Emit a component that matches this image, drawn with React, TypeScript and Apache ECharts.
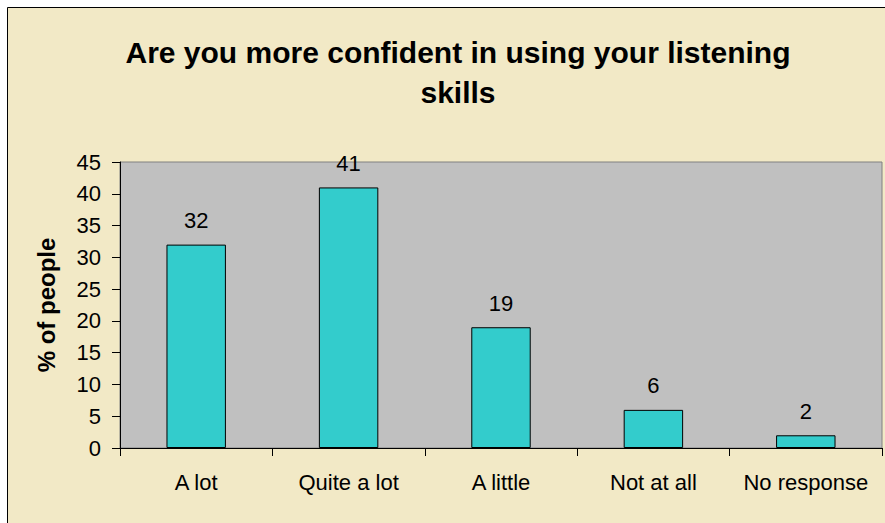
import React, { useEffect, useRef } from 'react';
import * as echarts from 'echarts';

const categories = ['A lot', 'Quite a lot', 'A little', 'Not at all', 'No response'];
const values = [32, 41, 19, 6, 2];
const yMin = 0;
const yMax = 45;
const yStep = 5;
const titleLines = ['Are you more confident in using your listening', 'skills'];
const yAxisName = '% of people';

const FONT = 'Arial, "Liberation Sans", sans-serif';

export default function App() {
  const ref = useRef<HTMLDivElement>(null);
  useEffect(() => {
    const chart = echarts.init(ref.current!, null, { renderer: 'svg' });
    chart.setOption({
      animation: false,
      backgroundColor: '#ffffff',
      graphic: [
        {
          type: 'rect',
          z: -100,
          silent: true,
          shape: { x: 7.5, y: 7.5, width: 900, height: 600 },
          style: { fill: '#F2E9C6', stroke: '#000000', lineWidth: 1 },
        },
      ],
      title: {
        text: titleLines.join('\n'),
        left: 453,
        top: 27,
        textAlign: 'center',
        textStyle: {
          fontFamily: FONT,
          fontWeight: 'bold',
          fontSize: 30,
          lineHeight: 40,
          color: '#000000',
        },
      },
      grid: {
        left: 120,
        right: 3,
        top: 162,
        bottom: 75,
        show: true,
        backgroundColor: '#C0C0C0',
        borderColor: '#808080',
        borderWidth: 1,
      },
      xAxis: {
        type: 'category',
        data: categories,
        boundaryGap: true,
        axisLine: { show: true, lineStyle: { color: '#000000', width: 1 } },
        axisTick: { show: true, length: 8, alignWithLabel: false, lineStyle: { color: '#000000' } },
        axisLabel: { color: '#000000', fontSize: 22, fontFamily: FONT, margin: 23, interval: 0 },
        splitLine: { show: false },
      },
      yAxis: {
        type: 'value',
        min: yMin,
        max: yMax,
        interval: yStep,
        name: yAxisName,
        nameLocation: 'middle',
        nameGap: 62,
        nameRotate: 90,
        nameTextStyle: { fontWeight: 'bold', fontSize: 24, color: '#000000', fontFamily: FONT },
        axisLine: { show: true, lineStyle: { color: '#000000', width: 1 } },
        axisTick: { show: true, length: 8, lineStyle: { color: '#000000' } },
        axisLabel: { color: '#000000', fontSize: 22, fontFamily: FONT, margin: 19 },
        splitLine: { show: false },
      },
      series: [
        {
          type: 'bar',
          data: values,
          barWidth: '39%',
          itemStyle: { color: '#33CCCC', borderColor: '#000000', borderWidth: 1 },
          label: {
            show: true,
            position: 'top',
            distance: 13,
            color: '#000000',
            fontSize: 22,
            fontFamily: FONT,
          },
        },
      ],
    });
    return () => chart.dispose();
  }, []);
  return (
    <div
      ref={ref}
      style={{ position: 'absolute', left: 0, top: 0, width: 885, height: 523 }}
    />
  );
}
